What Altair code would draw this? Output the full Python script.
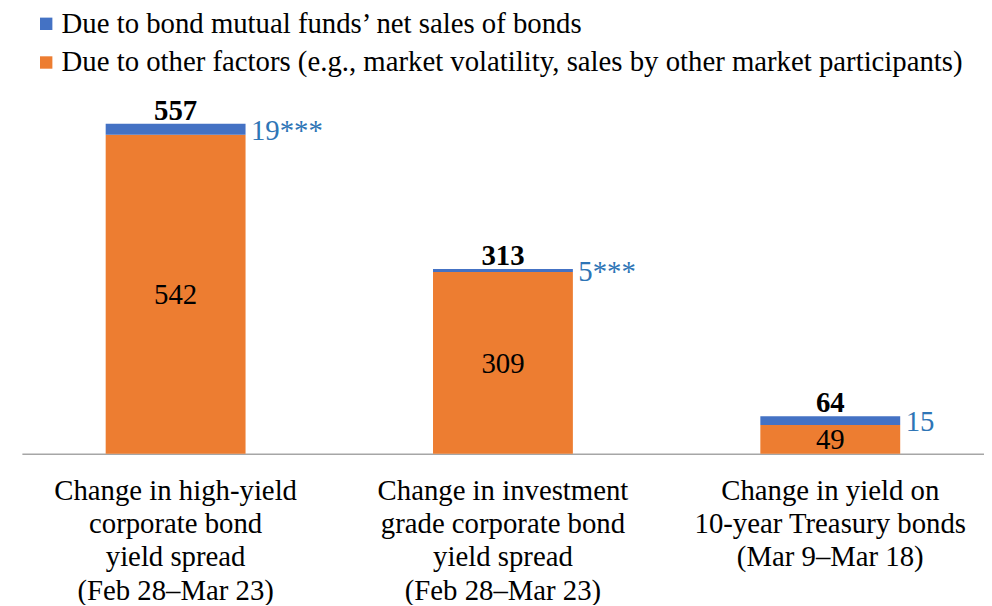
import altair as alt
import pandas as pd

categories = [
    "Change in high-yield|corporate bond|yield spread|(Feb 28–Mar 23)",
    "Change in investment|grade corporate bond|yield spread|(Feb 28–Mar 23)",
    "Change in yield on|10-year Treasury bonds|(Mar 9–Mar 18)",
]
series_names = [
    "Due to bond mutual funds’ net sales of bonds",
    "Due to other factors (e.g., market volatility, sales by other market participants)",
]
other_vals = [542, 309, 49]
fund_vals = [19, 5, 15]
totals = [557, 313, 64]
fund_labels = ["19***", "5***", "15"]

BLUE = "#4472C4"
ORANGE = "#ED7D31"
LBLUE = "#2E75B6"
FONT = "Liberation Serif"
FS = 29

rows = []
for c, o, f in zip(categories, other_vals, fund_vals):
    rows.append({"cat": c, "series": series_names[1], "y0": 0, "y1": o})
    rows.append({"cat": c, "series": series_names[0], "y0": o, "y1": o + f})
bars_df = pd.DataFrame(rows)

lab_df = pd.DataFrame({
    "cat": categories,
    "other": other_vals,
    "other_mid": [o / 2 for o in other_vals],
    "top": [o + f for o, f in zip(other_vals, fund_vals)],
    "fund_mid": [o + f / 2 for o, f in zip(other_vals, fund_vals)],
    "total": totals,
    "fund_label": fund_labels,
})

x_scale = alt.Scale(paddingInner=0.5727, paddingOuter=0.256)
x_enc = alt.X(
    "cat:N",
    sort=categories,
    title=None,
    scale=x_scale,
    axis=alt.Axis(
        labelExpr="split(datum.label, '|')",
        labelAngle=0,
        labelFont=FONT,
        labelFontSize=FS,
        labelColor="black",
        labelLineHeight=33.5,
        labelBaseline="top",
        labelPadding=23,
        labelLimit=0,
        ticks=False,
        domainColor="#A6A6A6",
        domainWidth=1.5,
        grid=False,
    ),
)
y_scale = alt.Scale(domain=[0, 600])

bars = alt.Chart(bars_df).mark_bar().encode(
    x=x_enc,
    y=alt.Y("y0:Q", scale=y_scale, axis=None),
    y2="y1:Q",
    color=alt.Color(
        "series:N",
        scale=alt.Scale(domain=series_names, range=[BLUE, ORANGE]),
        legend=alt.Legend(
            title=None,
            orient="none",
            legendX=10,
            legendY=-92,
            symbolType="square",
            symbolSize=156,
            symbolStrokeWidth=0,
            labelFont=FONT,
            labelFontSize=FS,
            labelColor="black",
            labelOffset=1,
            rowPadding=9,
            padding=0,
            labelLimit=0,
        ),
    ),
)

total_txt = alt.Chart(lab_df).mark_text(
    font=FONT, fontSize=FS, fontWeight="bold", color="black",
    baseline="alphabetic", dy=-4,
).encode(x=alt.X("cat:N", sort=categories), y=alt.Y("top:Q", scale=y_scale), text="total:Q")

other_txt = alt.Chart(lab_df).mark_text(
    font=FONT, fontSize=FS, color="black", baseline="middle", dy=1,
).encode(x=alt.X("cat:N", sort=categories), y=alt.Y("other_mid:Q", scale=y_scale), text="other:Q")

fund_txt = alt.Chart(lab_df).mark_text(
    font=FONT, fontSize=FS, color=LBLUE, baseline="middle", align="left", dx=76, dy=2,
).encode(x=alt.X("cat:N", sort=categories), y=alt.Y("fund_mid:Q", scale=y_scale), text="fund_label:N")

chart = alt.layer(bars, total_txt, other_txt, fund_txt).properties(
    width=970,
    height=356,
    autosize=alt.AutoSizeParams(type="none"),
    padding={"left": 14, "top": 91, "right": 0, "bottom": 150},
).configure(font=FONT).configure_view(stroke=None)

chart.save("out.html", embed_options={"renderer": "svg", "actions": False})
